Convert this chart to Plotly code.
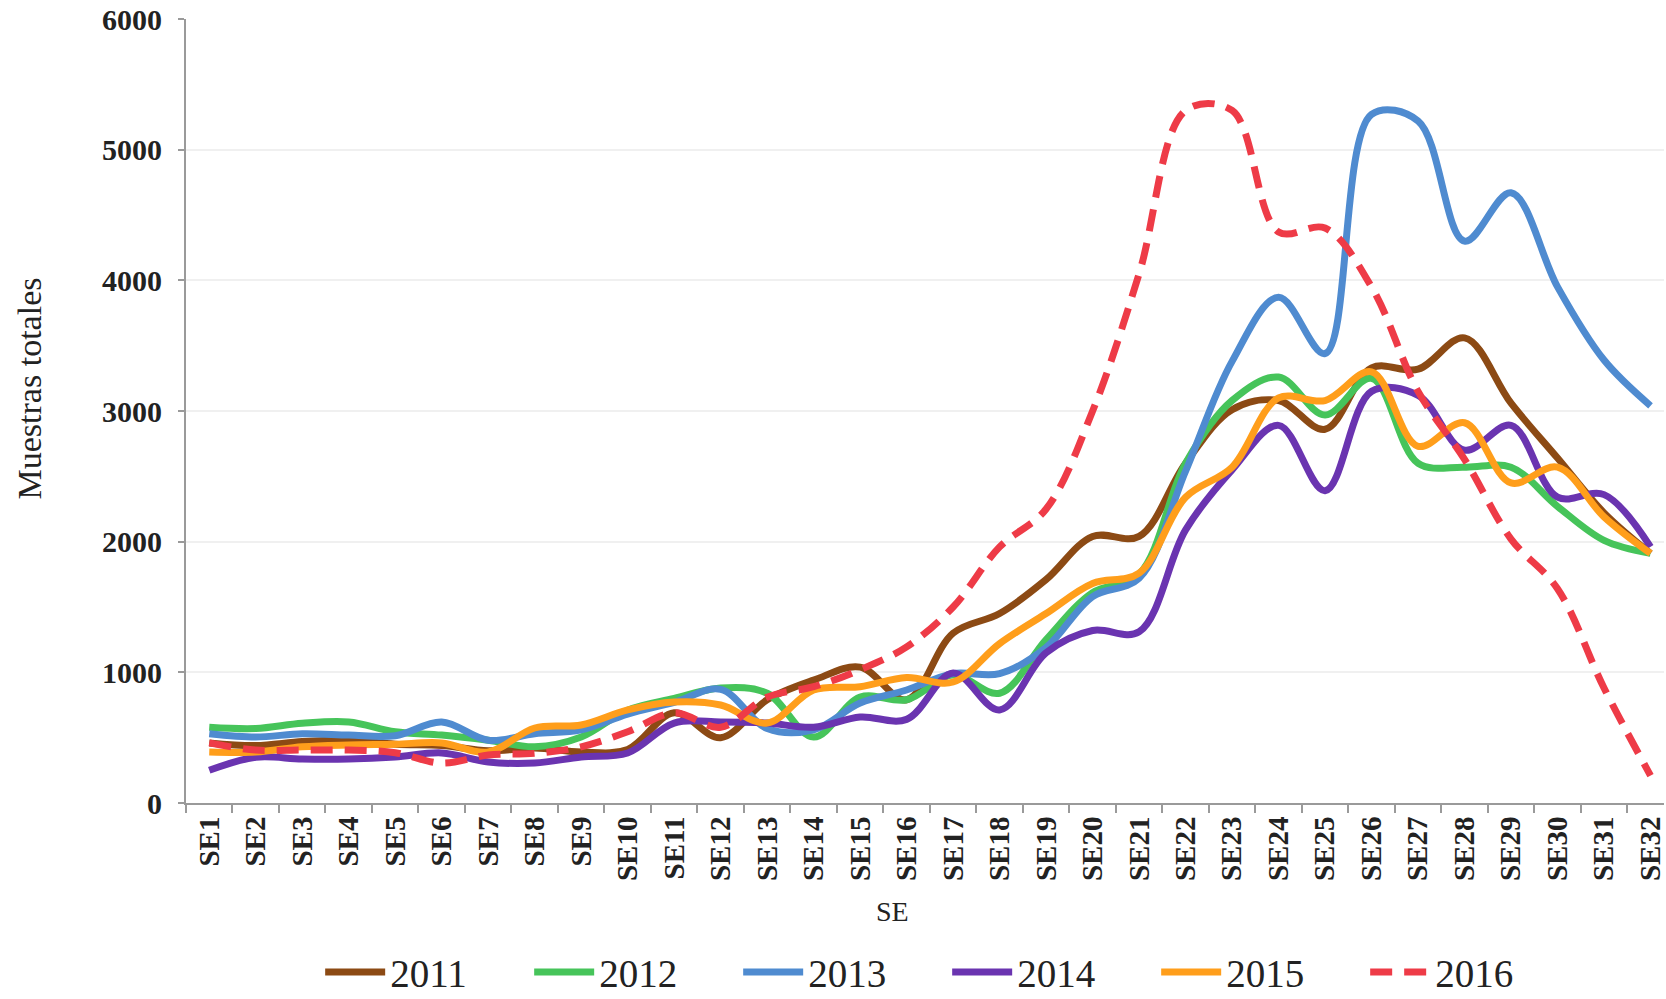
import plotly.graph_objects as go

weeks = ["SE1", "SE2", "SE3", "SE4", "SE5", "SE6", "SE7", "SE8", "SE9", "SE10",
         "SE11", "SE12", "SE13", "SE14", "SE15", "SE16", "SE17", "SE18", "SE19", "SE20",
         "SE21", "SE22", "SE23", "SE24", "SE25", "SE26", "SE27", "SE28", "SE29", "SE30",
         "SE31", "SE32"]

years = ["2011", "2012", "2013", "2014", "2015", "2016"]

v2011 = [460, 440, 470, 480, 450, 440, 400, 420, 390, 410, 690, 500, 790, 940, 1040, 790,
         1300, 1450, 1710, 2040, 2040, 2600, 3010, 3080, 2860, 3330, 3320, 3560, 3060, 2640,
         2220, 1910]
v2012 = [580, 570, 610, 620, 545, 520, 480, 430, 505, 710, 800, 880, 840, 505, 810, 790,
         980, 840, 1250, 1610, 1750, 2600, 3080, 3260, 2970, 3250, 2600, 2570, 2570, 2270,
         2010, 1910]
v2013 = [530, 505, 530, 520, 515, 620, 480, 530, 560, 680, 770, 870, 570, 560, 765, 865,
         990, 990, 1190, 1580, 1720, 2540, 3380, 3870, 3440, 5270, 5220, 4300, 4670, 3950,
         3390, 3040]
v2014 = [250, 350, 336, 336, 352, 383, 314, 306, 352, 383, 612, 620, 612, 580, 658, 640,
         995, 712, 1150, 1320, 1310, 2090, 2550, 2890, 2390, 3150, 3120, 2700, 2890, 2340,
         2360, 1960]
v2015 = [390, 390, 430, 444, 450, 460, 390, 574, 597, 712, 773, 750, 612, 865, 890, 960,
         926, 1220, 1450, 1680, 1760, 2340, 2570, 3100, 3080, 3300, 2730, 2910, 2450, 2570,
         2190, 1910]
v2016 = [460, 405, 405, 405, 385, 305, 367, 380, 430, 545, 690, 580, 810, 890, 1020, 1195,
         1500, 1960, 2250, 3000, 4050, 5300, 5300, 4370, 4400, 3950, 3150, 2630, 2020, 1640,
         880, 210]

series = [v2011, v2012, v2013, v2014, v2015, v2016]
colors = ["#8C4A14", "#46C45A", "#4F8BD0", "#6A34B0", "#FF9E1B", "#EE3B47"]
dashes = ["solid", "solid", "solid", "solid", "solid", "22px,12px"]

fig = go.Figure()
for name, vals, col, dash in zip(years, series, colors, dashes):
    fig.add_trace(go.Scatter(
        x=weeks, y=vals, name=name, mode="lines",
        line=dict(color=col, width=7, shape="spline", smoothing=1, dash=dash),
    ))

serif = "Liberation Serif"
fig.update_layout(
    width=1666, height=999,
    margin=dict(l=186, r=0, t=19, b=196),
    paper_bgcolor="white", plot_bgcolor="white",
    showlegend=True,
    legend=dict(
        orientation="h", x=0.515, xanchor="center",
        yref="container", y=0.027, yanchor="middle",
        font=dict(family=serif, size=39, color="#222222"),
        entrywidth=134, itemwidth=60,
    ),
    xaxis=dict(
        type="category", categoryorder="array", categoryarray=weeks,
        range=[-0.5, 31.29],
        showline=True, linecolor="#9a9a9a", linewidth=2,
        ticks="outside", tickson="boundaries", ticklen=8, tickcolor="#9a9a9a", tickwidth=1.5,
        tickangle=-90,
        tickfont=dict(family=serif, size=29, color="#222222", weight="bold"),
        showgrid=False, zeroline=False,
    ),
    yaxis=dict(
        range=[0, 6000], tickvals=[0, 1000, 2000, 3000, 4000, 5000, 6000],
        showline=True, linecolor="#9a9a9a", linewidth=2,
        ticks="outside", ticklen=6, tickcolor="#9a9a9a", tickwidth=1.5,
        ticklabelstandoff=10, ticklabeloverflow="allow",
        tickfont=dict(family=serif, size=30, color="#222222", weight="bold"),
        showgrid=True, gridcolor="#f0f0f0", gridwidth=1.5, zeroline=False,
    ),
    annotations=[
        dict(text="Muestras totales", xref="paper", yref="paper",
             x=-0.1061, y=0.529, xanchor="center", yanchor="middle",
             showarrow=False, textangle=-90,
             font=dict(family=serif, size=34, color="#222222")),
        dict(text="SE", xref="paper", yref="paper",
             x=0.4777, y=-0.139, xanchor="center", yanchor="middle", showarrow=False,
             font=dict(family=serif, size=28, color="#222222")),
    ],
)

fig.write_html("out.html", config={"displayModeBar": False},
               post_script="document.body.style.margin='0';")
